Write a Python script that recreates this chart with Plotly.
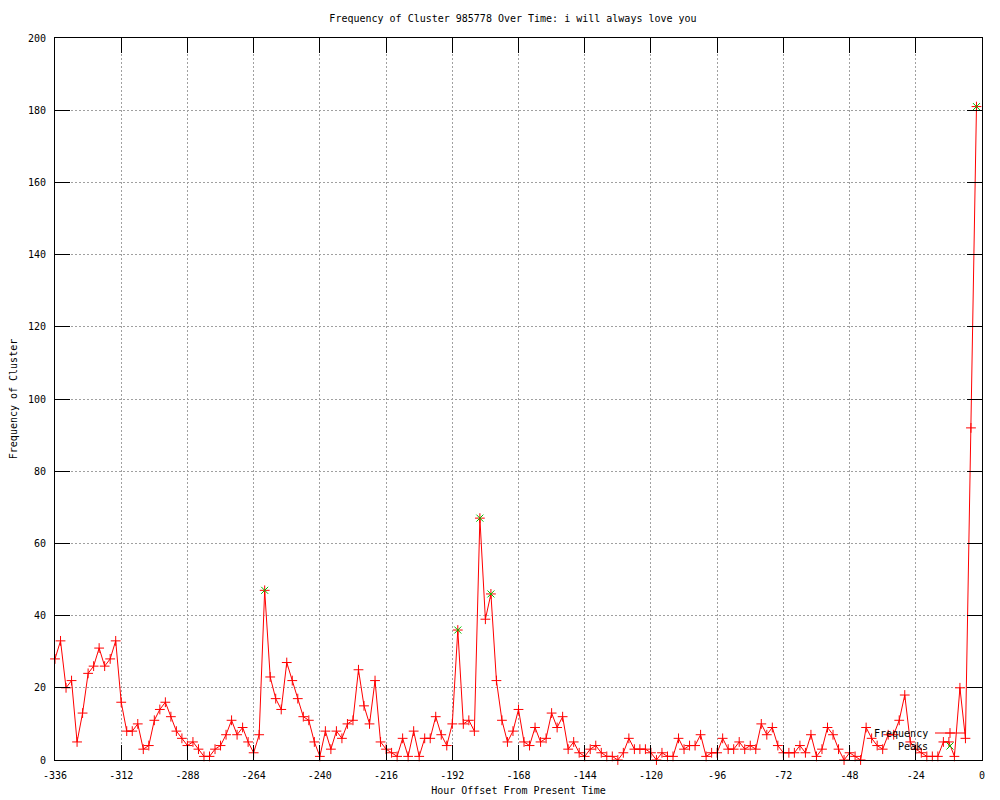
import plotly.graph_objects as go

# ---- data ----
hours = [
    -336, -334, -332, -330, -328, -326, -324, -322, -320, -318, -316, -314,
    -312, -310, -308, -306, -304, -302, -300, -298, -296, -294, -292, -290,
    -288, -286, -284, -282, -280, -278, -276, -274, -272, -270, -268, -266,
    -264, -262, -260, -258, -256, -254, -252, -250, -248, -246, -244, -242,
    -240, -238, -236, -234, -232, -230, -228, -226, -224, -222, -220, -218,
    -216, -214, -212, -210, -208, -206, -204, -202, -200, -198, -196, -194,
    -192, -190, -188, -186, -184, -182, -180, -178, -176, -174, -172, -170,
    -168, -166, -164, -162, -160, -158, -156, -154, -152, -150, -148, -146,
    -144, -142, -140, -138, -136, -134, -132, -130, -128, -126, -124, -122,
    -120, -118, -116, -114, -112, -110, -108, -106, -104, -102, -100, -98,
    -96, -94, -92, -90, -88, -86, -84, -82, -80, -78, -76, -74,
    -72, -70, -68, -66, -64, -62, -60, -58, -56, -54, -52, -50,
    -48, -46, -44, -42, -40, -38, -36, -34, -32, -30, -28, -26,
    -24, -22, -20, -18, -16, -14, -12, -10, -8, -6, -4, -2,
]
frequency = [
    28, 33, 20, 22, 5, 13, 24, 26, 31, 26, 28, 33,
    16, 8, 8, 10, 3, 4, 11, 14, 16, 12, 8, 6,
    4, 5, 3, 1, 1, 3, 4, 7, 11, 7, 9, 5,
    2, 7, 47, 23, 17, 14, 27, 22, 17, 12, 11, 5,
    1, 8, 3, 8, 6, 10, 11, 25, 15, 10, 22, 5,
    3, 2, 1, 6, 1, 8, 1, 6, 6, 12, 7, 4,
    10, 36, 10, 11, 8, 67, 39, 46, 22, 11, 5, 8,
    14, 5, 4, 9, 5, 6, 13, 9, 12, 3, 5, 2,
    1, 3, 4, 2, 1, 1, 0, 2, 6, 3, 3, 3,
    2, 0, 2, 1, 1, 6, 3, 4, 4, 7, 1, 2,
    2, 6, 3, 3, 5, 3, 4, 3, 10, 7, 9, 4,
    2, 2, 2, 4, 2, 7, 1, 3, 9, 7, 3, 0,
    2, 1, 0, 9, 6, 4, 3, 7, 7, 11, 18, 5,
    3, 2, 1, 1, 1, 5, 5, 1, 20, 6, 92, 181,
]
peak_hours = [-260, -190, -182, -178, -2]
peak_values = [47, 36, 67, 46, 181]

x_tick_values = [-336, -312, -288, -264, -240, -216, -192, -168, -144,
                 -120, -96, -72, -48, -24, 0]
x_tick_labels = ["-336", "-312", "-288", "-264", "-240", "-216", "-192",
                 "-168", "-144", "-120", "-96", "-72", "-48", "-24", "0"]
y_tick_values = [0, 20, 40, 60, 80, 100, 120, 140, 160, 180, 200]
y_tick_labels = ["0", "20", "40", "60", "80", "100", "120", "140", "160",
                 "180", "200"]

title_text = "Frequency of Cluster 985778 Over Time: i will always love you"
x_title = "Hour Offset From Present Time"
y_title = "Frequency of Cluster"
series_names = ["Frequency", "Peaks"]

FONT = "DejaVu Sans Mono"
RED = "#ff0000"
GREEN = "#00c000"

# The page body has an 8px margin, so the figure is 992x792 and sits at (8, 8).
FIG_W, FIG_H = 992, 792

fig = go.Figure()
fig.add_trace(go.Scatter(
    x=hours, y=frequency, mode="lines+markers", name="",
    line=dict(color=RED, width=1),
    marker=dict(symbol="cross-thin", size=7, color=RED,
                line=dict(color=RED, width=1)),
    cliponaxis=False, legend="legend", hoverinfo="x+y",
))
fig.add_trace(go.Scatter(
    x=peak_hours, y=peak_values, mode="markers", name="",
    marker=dict(symbol="x-thin", size=7, color=GREEN,
                line=dict(color=GREEN, width=1)),
    cliponaxis=False, legend="legend2", hoverinfo="x+y",
))

axis_common = dict(
    showline=True, linecolor="black", linewidth=1, mirror="ticks",
    ticks="inside", ticklen=15, tickcolor="black", tickwidth=1,
    showgrid=True, gridcolor="#a0a0a0", griddash="2px,2px", gridwidth=1,
    zeroline=False, automargin=False,
    tickfont=dict(family=FONT, size=10, color="black"),
)

key_x = (930 - 55) / 927
key_y1 = (760 - 733) / 722
key_y2 = (760 - 746) / 722

fig.update_layout(
    width=FIG_W, height=FIG_H,
    margin=dict(l=47, r=18, t=30, b=40),
    paper_bgcolor="white", plot_bgcolor="white",
    font=dict(family=FONT, size=10, color="black"),
    title=dict(text=title_text, x=505 / FIG_W, xanchor="center",
               y=1 - 10 / FIG_H, yanchor="middle", yref="container",
               font=dict(family=FONT, size=10, color="black")),
    xaxis=dict(range=[-336, 0], tickvals=x_tick_values, ticktext=x_tick_labels,
               ticklabelstandoff=6,
               title=dict(text=x_title, standoff=6,
                          font=dict(family=FONT, size=10, color="black")),
               **axis_common),
    yaxis=dict(range=[0, 200], tickvals=y_tick_values, ticktext=y_tick_labels,
               ticklabelstandoff=6,
               title=dict(text=y_title, standoff=12,
                          font=dict(family=FONT, size=10, color="black")),
               **axis_common),
    legend=dict(x=key_x, xanchor="left", y=key_y1,
                yanchor="middle", bgcolor="rgba(0,0,0,0)", borderwidth=0,
                font=dict(family=FONT, size=10), itemwidth=30),
    legend2=dict(x=key_x, xanchor="left", y=key_y2,
                 yanchor="middle", bgcolor="rgba(0,0,0,0)", borderwidth=0,
                 font=dict(family=FONT, size=10), itemwidth=30),
    showlegend=True,
    annotations=[
        dict(text=series_names[0], xref="paper", yref="paper",
             x=key_x, y=key_y1, xanchor="right",
             yanchor="middle", showarrow=False,
             font=dict(family=FONT, size=10, color="black")),
        dict(text=series_names[1], xref="paper", yref="paper",
             x=key_x, y=key_y2, xanchor="right",
             yanchor="middle", showarrow=False,
             font=dict(family=FONT, size=10, color="black")),
    ],
)

fig.write_html("out.html", config={"displayModeBar": False})
